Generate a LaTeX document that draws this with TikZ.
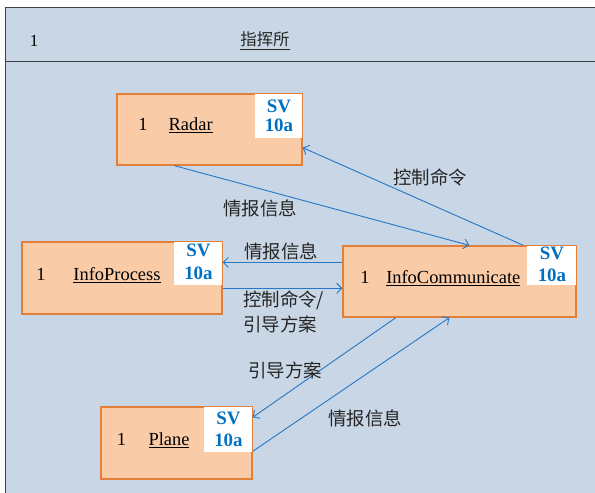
\documentclass[tikz,border=0pt]{standalone}
\usepackage{fontspec}
\setmainfont{Liberation Serif}
\newfontfamily\cjk{Noto Sans CJK SC}
\usetikzlibrary{arrows.meta,calc}
\definecolor{bg}{RGB}{200,214,229}
\definecolor{boxfill}{RGB}{250,203,167}
\definecolor{boxline}{RGB}{226,128,58}
\definecolor{arrowc}{RGB}{35,120,200}
\definecolor{svblue}{RGB}{0,112,192}
\definecolor{framec}{RGB}{64,64,64}
\definecolor{labelc}{RGB}{38,38,38}
\begin{document}
\begin{tikzpicture}[x=1bp,y=-1bp,
  classbox/.style={draw=boxline,fill=boxfill,line width=1.3bp,rectangle,inner sep=0pt},
  svbox/.style={fill=white,rectangle,inner sep=0pt,anchor=north east},
  svtext/.style={anchor=base,inner sep=0pt,text=svblue,font=\fontsize{19}{22}\selectfont\bfseries},
  nametext/.style={anchor=base,inner sep=0pt,font=\fontsize{18.5}{22}\selectfont},
  msg/.style={draw=arrowc,line width=0.9bp,-{Straight Barb[length=5bp,width=10bp]}},
  lbl/.style={inner sep=0pt,text=labelc,font=\cjk\fontsize{18.5}{25}\selectfont}]
\useasboundingbox (0,0) rectangle (595,493);
% frame
\fill[bg] (5.7,7.3) rectangle (595,493);
\coordinate (ftl) at (5.7,7.3);
\coordinate (ftr) at (595,7.3);
\coordinate (fbl) at (5.7,493);
\coordinate (fdl) at (5.7,61.7);
\coordinate (fdr) at (595,61.7);
\draw[framec,line width=1.3bp] (fbl) -- (ftl) -- (ftr);
\draw[framec,line width=1.3bp] (fdl) -- (fdr);
\node[nametext,font=\fontsize{17}{20}\selectfont] (hone) at (34,47) {1};
\node[anchor=base,inner sep=0pt,font=\cjk\fontsize{16.5}{20}\selectfont,text=labelc] (htitle) at (265,46) {\underline{指挥所}};

% Radar
\node[classbox,minimum width=185bp,minimum height=71bp] (radar) at (209.5,129.5) {};
\node[svbox,minimum width=47bp,minimum height=44bp] (radarsv) at (radar.north east) {};
\node[svtext] (radarsv1) at ($(radarsv.north)+(0,19)$) {SV};
\node[svtext] (radarsv2) at ($(radarsv.north)+(0,38)$) {10a};
\node[nametext] (radarone) at (143,131) {1};
\node[nametext] (radarname) at (190.7,131) {\underline{Radar}};

% InfoProcess
\node[classbox,minimum width=200bp,minimum height=72bp] (proc) at (122,278) {};
\node[svbox,minimum width=48bp,minimum height=43bp] (procsv) at (proc.north east) {};
\node[svtext] (procsv1) at ($(procsv.north)+(0,15)$) {SV};
\node[svtext] (procsv2) at ($(procsv.north)+(0,38)$) {10a};
\node[nametext] (procone) at (41,280.7) {1};
\node[nametext] (procname) at (117,280.7) {\underline{InfoProcess}};

% InfoCommunicate
\node[classbox,minimum width=233bp,minimum height=71bp] (comm) at (459.5,281.5) {};
\node[svbox,minimum width=49bp,minimum height=39bp] (commsv) at (comm.north east) {};
\node[svtext] (commsv1) at ($(commsv.north)+(0,14)$) {SV};
\node[svtext] (commsv2) at ($(commsv.north)+(0,36)$) {10a};
\node[nametext] (commone) at (365,283.3) {1};
\node[nametext] (commname) at (453.3,283.3) {\underline{InfoCommunicate}};

% Plane
\node[classbox,minimum width=151bp,minimum height=72bp] (plane) at (176.5,443) {};
\node[svbox,minimum width=48bp,minimum height=45bp] (planesv) at (plane.north east) {};
\node[svtext] (planesv1) at ($(planesv.north)+(0,18)$) {SV};
\node[svtext] (planesv2) at ($(planesv.north)+(0,40)$) {10a};
\node[nametext] (planeone) at (121.5,445.7) {1};
\node[nametext] (planename) at (169,445.7) {\underline{Plane}};

% connectors
\draw[msg] ($(radar.south west)+(58,0)$) -- ($(comm.north west)+(127,0)$);
\draw[msg] ($(comm.north west)+(181,0)$) -- ($(radar.south east)+(0,-18)$);
\draw[msg] ($(comm.north west)+(0,17)$) -- ($(proc.north east)+(0,21)$);
\draw[msg] ($(proc.north east)+(0,47)$) -- ($(comm.north west)+(0,43)$);
\draw[msg] ($(comm.south west)+(53.5,0)$) -- ($(plane.north east)+(0,11)$);
\draw[msg] ($(plane.north east)+(0,45)$) -- ($(comm.south west)+(107,0)$);

% labels
\node[lbl] (l1) at (260,208) {情报信息};
\node[lbl] (l2) at (430,177) {控制命令};
\node[lbl] (l3) at (281,251) {情报信息};
\node[lbl,align=left,anchor=north west] (l4) at (243,291) {控制命令/\\引导方案};
\node[lbl] (l5) at (285,370) {引导方案};
\node[lbl] (l6) at (365,418) {情报信息};
\end{tikzpicture}
\end{document}
